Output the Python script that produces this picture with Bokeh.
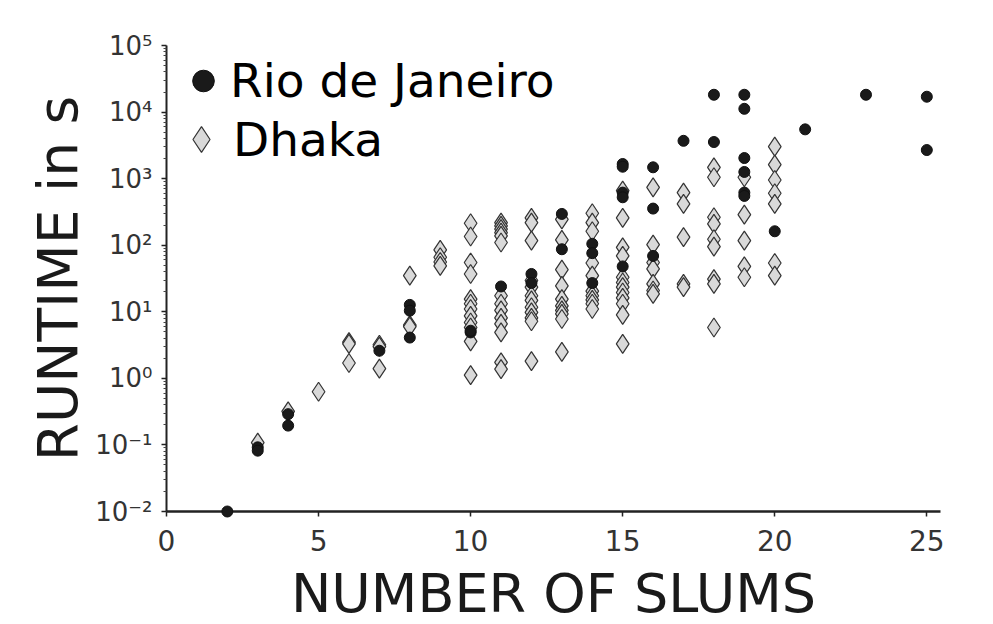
from bokeh.plotting import figure
from bokeh.models import Range1d, Legend, LegendItem, FixedTicker
from bokeh.embed import file_html
from bokeh.resources import INLINE

# ---- data ----
rio_x = [2, 3, 3, 4, 4, 7, 8, 8, 8, 10, 10, 11, 12, 12, 13, 13,
         14, 14, 14, 15, 15, 15, 15, 15, 16, 16, 16, 17, 18, 18,
         19, 19, 19, 19, 19, 19, 20, 21, 23, 25, 25]
rio_y = [0.01, 0.092, 0.082, 0.29, 0.195, 2.6, 12.7, 10.4, 4.1, 4.9, 5.2, 24, 37, 27, 295, 87,
         105, 76, 27, 1660, 1510, 617, 525, 48, 1480, 355, 69, 3700, 18200, 3550,
         18200, 11200, 2040, 1260, 617, 550, 162, 5500, 18200, 17000, 2690]

dhaka_x = [3, 4, 5, 6, 6, 6, 7, 7, 7, 8, 8, 8,
           9, 9, 9, 9,
           10, 10, 10, 10, 10, 10, 10, 10, 10, 10, 10, 10,
           11, 11, 11, 11, 11, 11, 11, 11, 11, 11, 11, 11, 11, 11,
           12, 12, 12, 12, 12, 12, 12, 12, 12, 12, 12, 12,
           13, 13, 13, 13, 13, 13, 13, 13, 13, 13,
           14, 14, 14, 14, 14, 14, 14, 14, 14, 14,
           15, 15, 15, 15, 15, 15, 15, 15, 15, 15, 15, 15,
           16, 16, 16, 16, 16, 16, 16,
           17, 17, 17, 17, 17,
           18, 18, 18, 18, 18, 18, 18, 18, 18,
           19, 19, 19, 19, 19,
           20, 20, 20, 20, 20, 20, 20]
dhaka_y = [0.108, 0.32, 0.63, 3.5, 3.3, 1.7, 3.2, 3.0, 1.4, 35, 6.3, 6.0,
           85, 66, 56, 49,
           214, 135, 55, 37, 15.5, 13.2, 11, 8.7, 6.9, 5.8, 3.6, 1.12,
           219, 195, 174, 155, 138, 110, 17.4, 13.2, 10.5, 8.1, 6.6, 4.9, 1.74, 1.38,
           257, 219, 117, 29.5, 23.4, 17.4, 14.8, 11.7, 9.8, 8.1, 7.2, 1.82,
           245, 120, 43, 24.5, 15.5, 12.3, 10.5, 9.3, 7.8, 2.5,
           302, 219, 162, 54, 35, 20.4, 17.4, 15.1, 13.2, 11,
           660, 257, 93, 69, 33, 27.5, 23.4, 19.5, 16.2, 13.2, 9.0, 3.3,
           740, 102, 55, 44, 26.3, 20.9, 18.6,
           617, 417, 132, 26.3, 23.4,
           1480, 1050, 263, 209, 123, 95, 31, 26.3, 5.8,
           1050, 288, 117, 48, 33,
           3020, 1620, 955, 603, 417, 54, 35]

x_ticks = [0, 5, 10, 15, 20, 25]
y_ticks = [1e-2, 1e-1, 1e0, 1e1, 1e2, 1e3, 1e4, 1e5]
y_tick_labels = ["10\u207b\u00b2", "10\u207b\u00b9", "10\u2070", "10\u00b9",
                 "10\u00b2", "10\u00b3", "10\u2074", "10\u2075"]
series_names = ["Rio de Janeiro", "Dhaka"]
x_title = "NUMBER OF SLUMS"
y_title = "RUNTIME in s"

FONT = "DejaVu Sans"

p = figure(frame_width=774, frame_height=466, y_axis_type="log",
           x_range=Range1d(0, 25.45), y_range=Range1d(1e-2, 1e5),
           output_backend="svg", toolbar_location=None,
           min_border_left=166, min_border_top=45, min_border_right=25,
           min_border_bottom=105)
p.background_fill_color = "white"
p.border_fill_color = "white"
p.outline_line_color = None
p.xgrid.visible = False
p.ygrid.visible = False

r_dhaka = p.scatter(dhaka_x, dhaka_y, marker="diamond", size=19,
                    fill_color="#d9d9d9", line_color="#333333", line_width=1.2)
r_rio = p.scatter(rio_x, rio_y, marker="circle", size=11,
                  fill_color="#1a1a1a", line_color="#111111", line_width=1)
r_dhaka.level = "overlay"
r_rio.level = "overlay"

# x axis
xa = p.xaxis[0]
xa.ticker = FixedTicker(ticks=x_ticks)
xa.axis_line_color = "#222222"
xa.axis_line_width = 2.5
xa.major_tick_line_color = "#222222"
xa.major_tick_line_width = 1.5
xa.major_tick_out = 5
xa.major_tick_in = 0
xa.minor_tick_line_color = None
xa.major_label_text_font = FONT
xa.major_label_text_font_size = "28px"
xa.major_label_text_color = "#333333"
xa.major_label_standoff = 13
xa.axis_label = x_title
xa.axis_label_text_font = FONT
xa.axis_label_text_font_size = "54px"
xa.axis_label_text_font_style = "normal"
xa.axis_label_text_color = "#1a1a1a"
xa.axis_label_standoff = 8

# y axis
ya = p.yaxis[0]
minor = [t * m for t in y_ticks[:-1] for m in range(2, 10)]
ya.ticker = FixedTicker(ticks=y_ticks, minor_ticks=minor)
ya.major_label_overrides = {t: lab for t, lab in zip(y_ticks, y_tick_labels)}
ya.axis_line_color = "#222222"
ya.axis_line_width = 2
ya.major_tick_line_color = "#222222"
ya.major_tick_line_width = 1.5
ya.major_tick_out = 5
ya.major_tick_in = 0
ya.minor_tick_line_color = "#444444"
ya.minor_tick_out = 3
ya.minor_tick_in = 0
ya.major_label_text_font = FONT
ya.major_label_text_font_size = "26px"
ya.major_label_text_color = "#333333"
ya.major_label_standoff = 9
ya.axis_label = y_title
ya.axis_label_text_font = FONT
ya.axis_label_text_font_size = "55px"
ya.axis_label_text_font_style = "normal"
ya.axis_label_text_color = "#1a1a1a"
ya.axis_label_standoff = 2

common = dict(padding=0, margin=0, spacing=0, border_line_color=None,
              background_fill_alpha=0,
              label_text_font=FONT, label_text_font_size="47px",
              label_text_color="#000000")
leg_a = Legend(items=[LegendItem(label=series_names[0], renderers=[r_rio])],
               location=(10, 403), glyph_width=54, glyph_height=55,
               label_height=55, label_standoff=-5, **common)
leg_b = Legend(items=[LegendItem(label=series_names[1], renderers=[r_dhaka])],
               location=(3, 332), glyph_width=64, glyph_height=80,
               label_height=55, label_standoff=-8, **common)
p.add_layout(leg_a)
p.add_layout(leg_b)

open("out.html", "w").write(file_html(p, INLINE))
